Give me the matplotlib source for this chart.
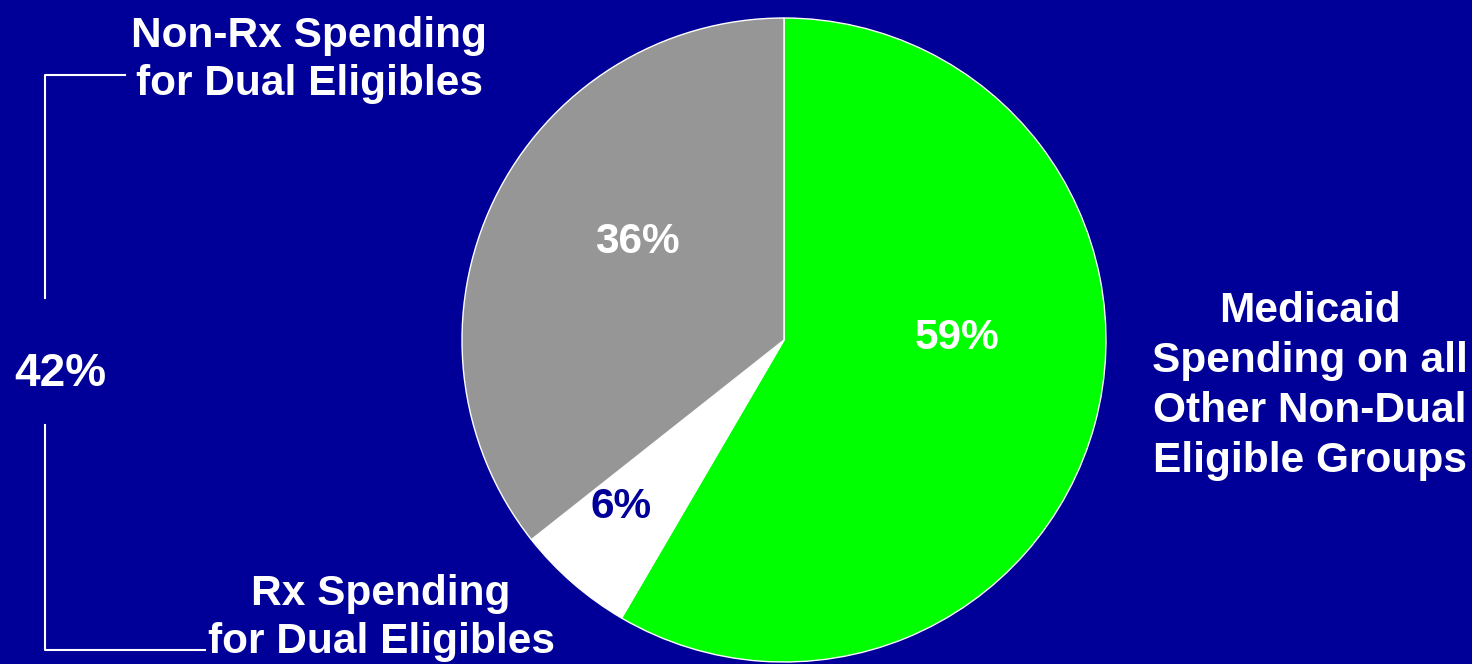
import matplotlib
matplotlib.use("Agg")
import matplotlib.pyplot as plt

plt.rcParams['font.family'] = ['Liberation Sans', 'DejaVu Sans']

# slices, clockwise from the top
values = [59, 6, 36]
pct_labels = ['59%', '6%', '36%']
colors = ['#00ff00', '#ffffff', '#969696']
pct_colors = ['white', '#000099', 'white']
dual_total = '42%'

bg = '#000099'
W, H = 1472, 664

fig = plt.figure(figsize=(W / 100, H / 100), dpi=100, facecolor=bg)
ax = fig.add_axes([0, 0, 1, 1])
ax.set_facecolor(bg)

cx, cy, r = 784, H - 340, 322
wedges, _ = ax.pie(values, colors=colors, startangle=90, counterclock=False,
                   center=(cx, cy), radius=r, frame=True,
                   wedgeprops=dict(edgecolor='white', linewidth=1))
ax.set_xlim(0, W)
ax.set_ylim(0, H)
ax.axis('off')

# percent labels inside slices
pct_pos = [(957, 338), (621, 507), (637, 242)]
for lab, c, (x, y) in zip(pct_labels, pct_colors, pct_pos):
    ax.text(x, H - y, lab, color=c, fontsize=30.5, fontweight='bold',
            ha='center', va='center')

# category labels
ax.text(309, H - 60, 'Non-Rx Spending\nfor Dual Eligibles', color='white',
        fontsize=30.5, fontweight='bold', ha='center', va='center', linespacing=1.25)
ax.text(381, H - 618, 'Rx Spending\nfor Dual Eligibles', color='white',
        fontsize=30.5, fontweight='bold', ha='center', va='center', linespacing=1.25)
ax.text(1310, H - 386, 'Medicaid\nSpending on all\nOther Non-Dual\nEligible Groups',
        color='white', fontsize=30.5, fontweight='bold', ha='center', va='center',
        linespacing=1.33)

# bracket grouping the two dual-eligible slices
ax.plot([125, 45, 45], [H - 75, H - 75, H - 298], color='white', lw=1.5)
ax.plot([45, 45, 205], [H - 425, H - 650, H - 650], color='white', lw=1.5)
ax.text(60, H - 374, dual_total, color='white', fontsize=33, fontweight='bold',
        ha='center', va='center')

fig.savefig('out.png', dpi=100, facecolor=bg)
